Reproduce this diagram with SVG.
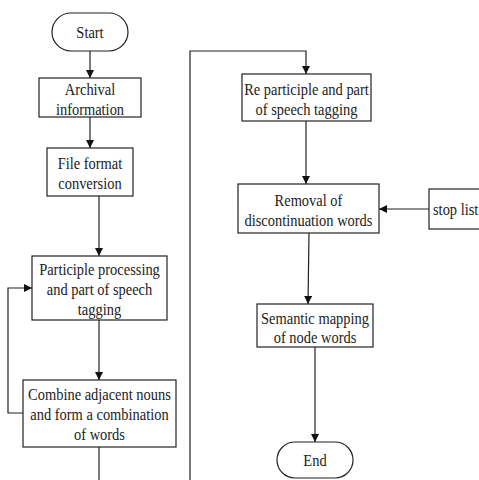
<svg xmlns="http://www.w3.org/2000/svg" width="479" height="480" viewBox="0 0 479 480">
<defs>
<style>
.box{fill:#fff;stroke:#222;stroke-width:1.2}
.t{font-size:17px;fill:#222;text-anchor:middle}
.c{fill:none;stroke:#222;stroke-width:1.2}
</style>
<marker id="ah" viewBox="0 0 10 10" refX="10" refY="5" markerWidth="8" markerHeight="8" markerUnits="userSpaceOnUse" orient="auto">
<path d="M0,0 L10,5 L0,10 z" fill="#111"/>
</marker>
</defs>
<rect width="479" height="480" fill="#fff"/>
<g id="connectors">
<line class="c" x1="90" y1="51" x2="90" y2="78" marker-end="url(#ah)"/>
<line class="c" x1="90" y1="117" x2="90" y2="148" marker-end="url(#ah)"/>
<line class="c" x1="99" y1="196" x2="99" y2="256" marker-end="url(#ah)"/>
<line class="c" x1="99" y1="320" x2="99" y2="380" marker-end="url(#ah)"/>
<polyline class="c" points="23,413 8,413 8,288 32,288" marker-end="url(#ah)"/>
<line class="c" x1="99" y1="447" x2="99" y2="480"/>
<polyline class="c" points="190,480 190,51 306,51 306,74" marker-end="url(#ah)"/>
<line class="c" x1="306" y1="121" x2="306" y2="184" marker-end="url(#ah)"/>
<line class="c" x1="429" y1="209" x2="379" y2="209" marker-end="url(#ah)"/>
<line class="c" x1="309" y1="233" x2="308" y2="304" marker-end="url(#ah)"/>
<line class="c" x1="315" y1="347" x2="315" y2="442" marker-end="url(#ah)"/>
</g>
<g id="start">
<rect class="box" x="52" y="13" width="76" height="38" rx="19"/>
</g>
<g id="archival">
<rect class="box" x="39" y="78" width="102" height="39"/>
</g>
<g id="fileformat">
<rect class="box" x="47" y="148" width="86" height="48"/>
</g>
<g id="participle">
<rect class="box" x="32" y="256" width="135" height="64"/>
</g>
<g id="combine">
<rect class="box" x="23" y="380" width="153" height="67"/>
</g>
<g id="reparticiple">
<rect class="box" x="242" y="74" width="129" height="47"/>
</g>
<g id="removal">
<rect class="box" x="238" y="184" width="141" height="49"/>
</g>
<g id="stoplist">
<rect class="box" x="429" y="189" width="60" height="40"/>
</g>
<g id="semantic">
<rect class="box" x="257" y="304" width="116" height="43"/>
</g>
<g id="end">
<rect class="box" x="277" y="442" width="76" height="36" rx="18"/>
</g>
<g id="labels" font-family="'Liberation Serif', 'DejaVu Serif', serif" transform="scale(0.85,1)">
<text class="t" x="105.88" y="38">Start</text>
<text class="t" x="105.88" y="95">Archival</text>
<text class="t" x="105.88" y="115">information</text>
<text class="t" x="105.88" y="169">File format</text>
<text class="t" x="105.88" y="189">conversion</text>
<text class="t" x="117.06" y="275">Participle processing</text>
<text class="t" x="117.06" y="295">and part of speech</text>
<text class="t" x="117.06" y="315">tagging</text>
<text class="t" x="117.06" y="400">Combine adjacent nouns</text>
<text class="t" x="117.06" y="420">and form a combination</text>
<text class="t" x="117.06" y="440">of words</text>
<text class="t" x="360.59" y="95">Re participle and part</text>
<text class="t" x="360.59" y="115">of speech tagging</text>
<text class="t" x="362.94" y="206">Removal of</text>
<text class="t" x="362.94" y="226">discontinuation words</text>
<text class="t" x="509.41" y="215" style="text-anchor:start">stop list</text>
<text class="t" x="370.59" y="324">Semantic mapping</text>
<text class="t" x="370.59" y="343">of node words</text>
<text class="t" x="370.59" y="466">End</text>
</g>
</svg>
